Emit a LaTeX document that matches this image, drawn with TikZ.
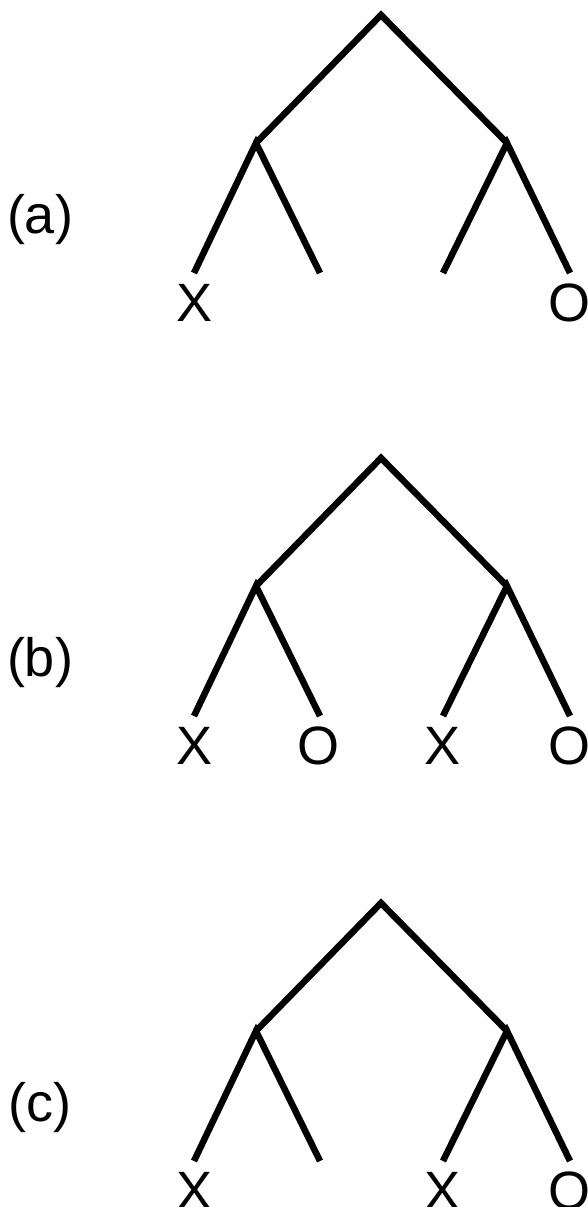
\documentclass[tikz,border=0pt]{standalone}
\usepackage{fontspec}
\setmainfont{Liberation Sans}
\tikzset{
  edge/.style={line width=6.5pt, line join=miter, line cap=butt},
  leaf/.style={anchor=base, inner sep=0pt, font=\fontsize{54}{54}\selectfont},
  tag/.style={anchor=base, inner sep=0pt, font=\fontsize{54}{54}\selectfont},
}
\begin{document}
\begin{tikzpicture}[x=1pt,y=-1pt]
\useasboundingbox (0,0) rectangle (588,1207);
% ---------- (a)
\begin{scope}[yshift=-15pt]
\coordinate (ar) at (381,0);
\coordinate (aL) at (256,128);
\coordinate (aR) at (507,128);
\coordinate (aa) at (194,258);
\coordinate (ab) at (320,258);
\coordinate (ac) at (443,258);
\coordinate (ad) at (570,258);
\draw[edge] (aL) -- (ar) -- (aR);
\draw[edge] (aa) -- (aL) -- (ab);
\draw[edge] (ac) -- (aR) -- (ad);
\node[leaf] (aXa) at (194.5,306) {X};
\node[leaf] (aOd) at (569.5,306) {O};
\node[tag] (atag) at (40,218) {(a)};
\end{scope}
% ---------- (b)
\begin{scope}[yshift=-458pt]
\coordinate (br) at (381,0);
\coordinate (bL) at (256,128);
\coordinate (bR) at (507,128);
\coordinate (ba) at (194,258);
\coordinate (bb) at (320,258);
\coordinate (bc) at (443,258);
\coordinate (bd) at (570,258);
\draw[edge] (bL) -- (br) -- (bR);
\draw[edge] (ba) -- (bL) -- (bb);
\draw[edge] (bc) -- (bR) -- (bd);
\node[leaf] (bXa) at (194.5,306) {X};
\node[leaf] (bOb) at (318.5,306) {O};
\node[leaf] (bXc) at (443,306) {X};
\node[leaf] (bOd) at (569.5,306) {O};
\node[tag] (btag) at (40,218) {(b)};
\end{scope}
% ---------- (c)
\begin{scope}[yshift=-903pt]
\coordinate (cr) at (381,0);
\coordinate (cL) at (256,128);
\coordinate (cR) at (507,128);
\coordinate (ca) at (194,258);
\coordinate (cb) at (320,258);
\coordinate (cc) at (443,258);
\coordinate (cd) at (570,258);
\draw[edge] (cL) -- (cr) -- (cR);
\draw[edge] (ca) -- (cL) -- (cb);
\draw[edge] (cc) -- (cR) -- (cd);
\node[leaf] (cXa) at (194.5,306) {X};
\node[leaf] (cXc) at (443,306) {X};
\node[leaf] (cOd) at (569.5,306) {O};
\node[tag] (ctag) at (40,218) {(c)};
\end{scope}
\end{tikzpicture}
\end{document}
